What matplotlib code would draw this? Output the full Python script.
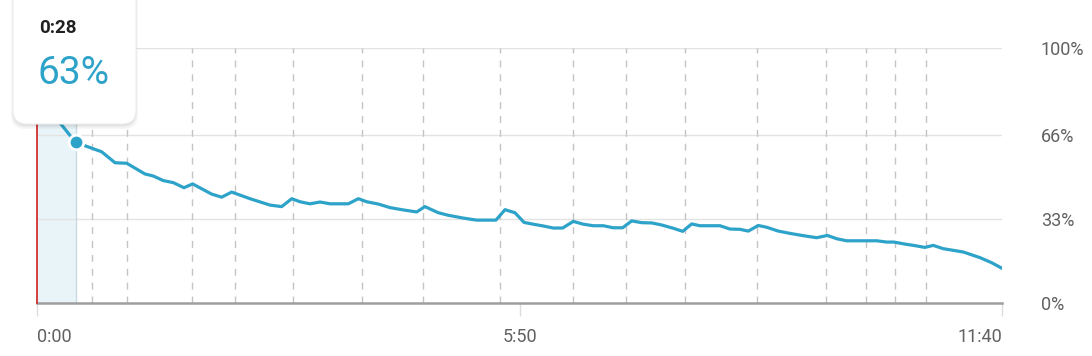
import matplotlib

matplotlib.use("Agg")

import matplotlib.pyplot as plt
from matplotlib.patches import FancyBboxPatch

plt.rcParams["font.family"] = ["Roboto", "DejaVu Sans"]

# battery level trace: minutes since start, percent
minutes = [
    0, 17.9, 28, 46.9, 56.6, 65.1, 78.3, 84.4, 91.6, 98.9, 106.6, 112.9,
    126.7, 134.0, 141.2, 154.5, 169.0, 177.5, 184.8, 190.8, 198.0, 205.3,
    212.6, 225.8, 233.1, 239.2, 247.6, 256.1, 265.7, 275.4, 281.4, 291.1,
    298.3, 309.2, 318.9, 332.9, 339.5, 346.7, 353.3, 360.0, 367.3, 374.5,
    381.3, 389.0, 396.3, 403.5, 410.8, 418.0, 424.8, 431.4, 438.6, 445.9,
    453.1, 461.6, 468.4, 474.9, 480.9, 495.4, 502.7, 509.9, 516.0, 523.2,
    529.3, 537.7, 546.2, 555.9, 565.6, 573.3, 580.1, 587.3, 600.6, 609.1,
    616.3, 621.6, 629.6, 636.8, 644.1, 650.1, 657.4, 671.9, 684.0, 692.5,
    700,
]
percent = [
    81, 69.8, 63.0, 59.3, 55.0, 54.8, 50.6, 49.8, 48.0, 47.2, 45.2, 46.7,
    42.7, 41.5, 43.5, 40.9, 38.4, 37.8, 40.9, 39.7, 38.9, 39.6,
    38.9, 38.9, 40.9, 39.7, 38.8, 37.4, 36.5, 35.7, 37.8, 35.4,
    34.4, 33.3, 32.5, 32.5, 36.6, 35.4, 31.6, 30.9, 30.2, 29.4,
    29.4, 32.0, 30.9, 30.3, 30.3, 29.5, 29.5, 32.2, 31.5, 31.4,
    30.6, 29.3, 28.1, 31.0, 30.3, 30.3, 29.0, 28.9, 28.2, 30.4,
    29.7, 28.2, 27.3, 26.4, 25.6, 26.5, 25.2, 24.4, 24.4, 24.4,
    23.9, 23.9, 23.1, 22.5, 21.8, 22.6, 21.3, 20.0, 17.8, 15.8,
    13.6,
]

# charge/unplug events shown as dashed markers
event_minutes = [
    39.7, 65.5, 112.7, 143.8, 185.9, 236.0, 279.8, 336.1, 389.0, 427.3,
    470.3, 522.5, 572.3, 601.3, 622.4, 644.7,
]

x_ticks = [0, 350, 700]
x_labels = ["0:00", "5:50", "11:40"]
y_ticks = [0, 33, 66, 100]
y_labels = ["0%", "33%", "66%", "100%"]

selected_minute = 28
selected_percent = 63
selected_label = "0:28"

line_color = "#2ea3c9"

fig = plt.figure(figsize=(10.92, 3.56), dpi=100)
ax = fig.add_axes([37 / 1092, 53 / 356, 965 / 1092, 255 / 356])

ax.set_xlim(0, 700)
ax.set_ylim(0, 100)

for y in y_ticks[1:]:
    ax.axhline(y, color="#e3e3e3", linewidth=1, zorder=1)

for m in event_minutes:
    ax.axvline(m, color="#c4c4c4", linewidth=1, linestyle=(0, (5, 5)), zorder=1)

ax.axvspan(0, selected_minute, color="#e9f4f8", zorder=0, linewidth=0)
ax.axvline(selected_minute, color="#c9d9df", linewidth=1, zorder=1)
ax.axvline(0, color="#d32f2f", linewidth=1.3, zorder=3, clip_on=False)

ax.plot(minutes, percent, color=line_color, linewidth=2.3, zorder=4,
        solid_joinstyle="round")
ax.scatter([selected_minute], [selected_percent], s=110, color=line_color,
           edgecolor="white", linewidth=2, zorder=5)

for side in ["top", "right", "left"]:
    ax.spines[side].set_visible(False)
ax.spines["bottom"].set_color("#9e9e9e")
ax.spines["bottom"].set_linewidth(1.8)
ax.spines["bottom"].set_zorder(2)

ax.set_xticks(x_ticks)
ax.set_xticklabels(x_labels)
ax.tick_params(axis="x", length=9, color="#dddddd", width=1, pad=9,
               labelsize=13, labelcolor="#616161")
labels = ax.get_xticklabels()
labels[0].set_ha("left")
labels[-1].set_ha("right")

ax.yaxis.tick_right()
ax.set_yticks(y_ticks)
ax.set_yticklabels(y_labels)
ax.tick_params(axis="y", length=0, pad=28, labelsize=13, labelcolor="#616161")

# tooltip overlay, in pixel units
over = fig.add_axes([0, 0, 1, 1], zorder=10)
over.set_xlim(0, 1092)
over.set_ylim(356, 0)
over.axis("off")
for i, a in enumerate([0.05, 0.04, 0.03]):
    over.add_patch(FancyBboxPatch((13 - i, -30), 123 + 2 * i, 154 + 2 + i * 1.5,
                                  boxstyle="round,pad=0,rounding_size=14",
                                  facecolor="black", alpha=a, linewidth=0))
over.add_patch(FancyBboxPatch((13, -30), 123, 154,
                              boxstyle="round,pad=0,rounding_size=14",
                              facecolor="white", edgecolor="#eeeeee",
                              linewidth=0.8))
over.text(39, 28, selected_label, fontsize=13.5, fontweight="bold",
          color="#212121", va="center", ha="left")
over.text(37, 74, f"{selected_percent}%", fontsize=28, color=line_color,
          va="center", ha="left")

fig.savefig("out.png", dpi=100)
